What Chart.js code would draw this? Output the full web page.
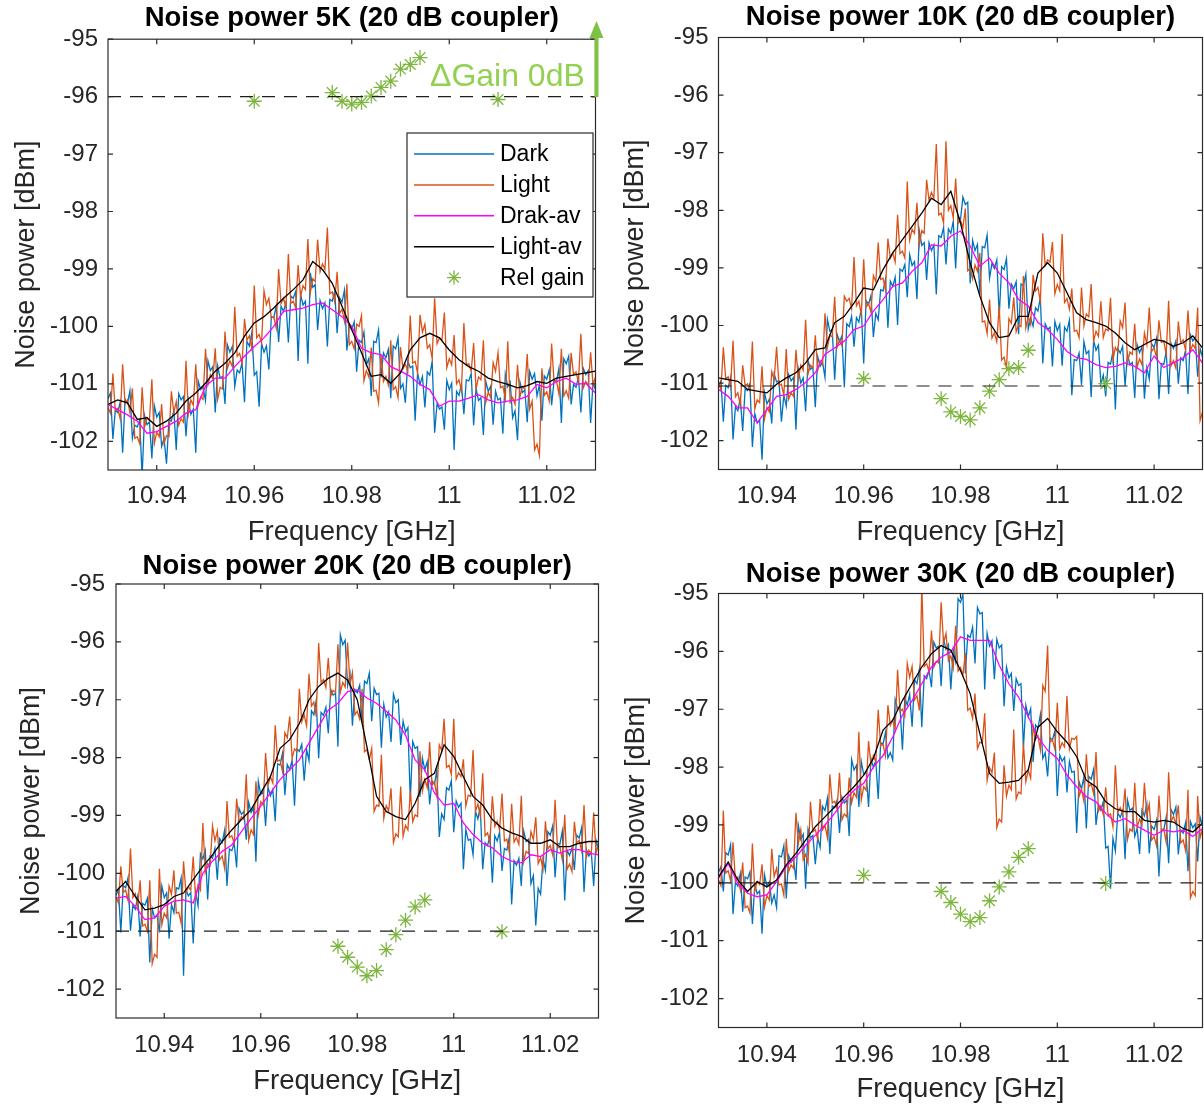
<!DOCTYPE html>
<html>
<head>
<meta charset="utf-8">
<script src="https://cdn.jsdelivr.net/npm/chart.js@4.4.1/dist/chart.umd.min.js"></script>
<style>
html,body{margin:0;padding:0;background:#ffffff;}
body{width:1204px;height:1107px;position:relative;overflow:hidden;}
canvas{position:absolute;}
</style>
</head>
<body>
<canvas id="c1" width="606" height="560" style="left:0px;top:0px"></canvas>
<canvas id="c2" width="594" height="560" style="left:610px;top:0px"></canvas>
<canvas id="c3" width="606" height="562" style="left:0px;top:545px"></canvas>
<canvas id="c4" width="594" height="552" style="left:610px;top:555px"></canvas>
<script>
// ---------------- data ----------------
const panelTitles = ['Noise power 5K (20 dB coupler)','Noise power 10K (20 dB coupler)','Noise power 20K (20 dB coupler)','Noise power 30K (20 dB coupler)'];
const xAxisTitle = 'Frequency [GHz]';
const yAxisTitle = 'Noise power [dBm]';
const seriesNames = ['Dark','Light','Drak-av','Light-av','Rel gain'];
const gainLabel = '\u0394Gain 0dB';

const xTickValues = [10.94, 10.96, 10.98, 11.00, 11.02];
const xTickLabels = ['10.94','10.96','10.98','11','11.02'];
const yTickValues = [-102, -101, -100, -99, -98, -97, -96, -95];
const yTickLabels = ['-102','-101','-100','-99','-98','-97','-96','-95'];
const xRange = [10.93, 11.03];
const yRange = [-102.5, -95];

const freqFine = [
10.930,10.9305,10.931,10.9315,10.932,10.9325,10.933,10.9335,10.934,10.9345,10.935,10.9355,10.936,10.9365,10.937,10.9375,10.938,10.9385,10.939,10.9395,
10.940,10.9405,10.941,10.9415,10.942,10.9425,10.943,10.9435,10.944,10.9445,10.945,10.9455,10.946,10.9465,10.947,10.9475,10.948,10.9485,10.949,10.9495,
10.950,10.9505,10.951,10.9515,10.952,10.9525,10.953,10.9535,10.954,10.9545,10.955,10.9555,10.956,10.9565,10.957,10.9575,10.958,10.9585,10.959,10.9595,
10.960,10.9605,10.961,10.9615,10.962,10.9625,10.963,10.9635,10.964,10.9645,10.965,10.9655,10.966,10.9665,10.967,10.9675,10.968,10.9685,10.969,10.9695,
10.970,10.9705,10.971,10.9715,10.972,10.9725,10.973,10.9735,10.974,10.9745,10.975,10.9755,10.976,10.9765,10.977,10.9775,10.978,10.9785,10.979,10.9795,
10.980,10.9805,10.981,10.9815,10.982,10.9825,10.983,10.9835,10.984,10.9845,10.985,10.9855,10.986,10.9865,10.987,10.9875,10.988,10.9885,10.989,10.9895,
10.990,10.9905,10.991,10.9915,10.992,10.9925,10.993,10.9935,10.994,10.9945,10.995,10.9955,10.996,10.9965,10.997,10.9975,10.998,10.9985,10.999,10.9995,
11.000,11.0005,11.001,11.0015,11.002,11.0025,11.003,11.0035,11.004,11.0045,11.005,11.0055,11.006,11.0065,11.007,11.0075,11.008,11.0085,11.009,11.0095,
11.010,11.0105,11.011,11.0115,11.012,11.0125,11.013,11.0135,11.014,11.0145,11.015,11.0155,11.016,11.0165,11.017,11.0175,11.018,11.0185,11.019,11.0195,
11.020,11.0205,11.021,11.0215,11.022,11.0225,11.023,11.0235,11.024,11.0245,11.025,11.0255,11.026,11.0265,11.027,11.0275,11.028,11.0285,11.029,11.0295,
11.030];
const freqAvg = [
10.930,10.932,10.934,10.936,10.938,10.940,10.942,10.944,10.946,10.948,
10.950,10.952,10.954,10.956,10.958,10.960,10.962,10.964,10.966,10.968,
10.970,10.972,10.974,10.976,10.978,10.980,10.982,10.984,10.986,10.988,
10.990,10.992,10.994,10.996,10.998,11.000,11.002,11.004,11.006,11.008,
11.010,11.012,11.014,11.016,11.018,11.020,11.022,11.024,11.026,11.028,
11.030];
const relFreq = [10.960,10.976,10.978,10.980,10.982,10.984,10.986,10.988,10.990,10.992,10.994,11.010];
const relFreq20K = [10.976,10.978,10.980,10.982,10.984,10.986,10.988,10.990,10.992,10.994,11.010];
const refLevels = [-96, -101.05, -101, -100];

// ---- 5K ----
const dark5K = [
-101.26,-101.16,-101.96,-101.46,-101.50,-101.32,-102.20,-101.27,-101.34,-101.12,
-101.95,-101.72,-101.75,-101.63,-102.61,-101.55,-101.71,-101.66,-102.30,-101.38,
-101.58,-101.50,-102.09,-101.95,-102.39,-101.63,-101.65,-101.46,-102.15,-101.17,
-101.28,-101.22,-101.91,-101.29,-101.53,-101.44,-102.20,-100.95,-101.10,-101.06,
-101.29,-100.60,-100.77,-100.70,-101.50,-100.69,-100.90,-100.87,-101.35,-100.32,
-100.45,-100.35,-101.05,-100.76,-100.81,-100.63,-101.32,-100.26,-100.34,-100.11,
-100.85,-100.79,-101.40,-100.30,-100.45,-100.34,-100.75,-99.83,-99.85,-99.65,
-100.27,-99.65,-99.74,-99.58,-100.28,-99.47,-99.51,-99.39,-100.60,-99.44,
-99.63,-99.56,-100.65,-99.07,-99.32,-99.27,-100.06,-99.55,-99.69,-99.59,
-100.35,-99.53,-99.56,-99.39,-100.12,-99.50,-99.58,-99.37,-100.42,-99.99,
-100.05,-99.92,-100.79,-100.24,-100.28,-100.10,-100.67,-100.56,-101.21,-100.26,
-100.28,-100.06,-100.89,-100.46,-100.55,-100.40,-101.25,-100.34,-100.39,-100.20,
-101.08,-101.00,-101.33,-100.60,-100.72,-100.69,-101.64,-100.81,-101.01,-100.87,
-101.41,-100.79,-100.85,-100.61,-101.85,-101.34,-101.44,-101.40,-101.80,-100.94,
-101.10,-100.99,-102.15,-101.13,-101.20,-101.01,-101.53,-100.93,-100.95,-100.82,
-101.72,-101.08,-101.29,-101.24,-101.89,-100.96,-101.13,-101.04,-101.71,-101.13,
-101.28,-101.25,-101.87,-100.83,-101.05,-100.97,-101.59,-101.47,-101.98,-100.97,
-101.15,-101.11,-101.67,-100.78,-100.92,-100.82,-101.21,-101.01,-101.64,-100.86,
-100.92,-100.76,-101.37,-100.94,-100.96,-100.73,-101.68,-100.56,-100.65,-100.52,
-101.36,-101.01,-101.06,-100.88,-101.50,-100.73,-100.84,-100.77,-101.68,-100.96,
-101.11];
const light5K = [
-101.41,-101.51,-100.82,-101.47,-101.43,-101.61,-100.66,-101.35,-101.28,-101.50,
-101.08,-101.95,-101.92,-102.04,-101.06,-101.75,-101.59,-101.64,-100.92,-102.04,
-101.84,-101.92,-101.35,-102.04,-101.90,-101.92,-101.13,-101.50,-101.31,-101.72,
-101.61,-101.67,-100.60,-101.52,-101.28,-101.37,-100.66,-101.38,-101.23,-101.27,
-100.39,-101.01,-100.84,-100.91,-100.38,-101.27,-101.06,-101.09,-100.09,-100.73,
-100.60,-100.70,-99.66,-100.52,-100.47,-100.65,-99.87,-100.24,-100.16,-100.39,
-99.29,-100.20,-100.14,-100.29,-99.38,-99.62,-99.51,-99.85,-99.83,-100.03,
-99.00,-99.60,-99.51,-99.67,-98.74,-99.60,-99.56,-99.68,-98.93,-99.48,
-99.29,-99.36,-98.48,-99.42,-99.17,-99.22,-98.49,-99.05,-98.91,-99.01,
-98.28,-99.43,-99.40,-99.57,-99.05,-99.78,-99.70,-99.91,-99.26,-100.32,
-100.26,-100.39,-99.96,-100.00,-99.81,-100.95,-100.77,-100.88,-100.37,-101.13,
-101.11,-101.33,-100.49,-100.96,-100.87,-101.02,-100.24,-101.10,-101.05,-101.24,
-100.36,-100.74,-100.66,-100.78,-99.81,-100.64,-100.61,-100.81,-99.80,-100.10,
-99.96,-100.38,-100.32,-100.56,-99.51,-100.30,-100.20,-100.24,-99.76,-100.72,
-100.56,-100.67,-100.15,-101.00,-100.93,-101.12,-99.94,-100.67,-100.65,-100.78,
-100.29,-101.09,-100.88,-100.93,-100.24,-101.32,-101.15,-101.24,-100.63,-100.78,
-100.46,-101.07,-101.04,-101.26,-100.26,-101.32,-101.24,-101.36,-100.67,-101.23,
-101.05,-101.09,-100.48,-101.44,-101.30,-102.15,-102.05,-102.25,-100.73,-101.20,
-101.14,-101.30,-100.30,-100.97,-100.95,-101.18,-100.39,-101.21,-101.12,-101.25,
-100.46,-100.84,-100.79,-100.97,-100.13,-101.07,-100.96,-101.03,-100.45,-101.03,
-100.88];
const darkAv5K = [
-101.36,-101.45,-101.54,-101.65,-101.86,-101.83,-101.74,-101.65,-101.51,-101.45,
-101.04,-100.90,-100.90,-100.70,-100.52,-100.35,-100.20,-100.00,-99.74,-99.71,
-99.68,-99.62,-99.59,-99.71,-99.83,-100.00,-100.38,-100.46,-100.49,-100.70,
-100.78,-100.87,-101.01,-101.10,-101.39,-101.30,-101.30,-101.25,-101.19,-101.28,
-101.33,-101.30,-101.28,-101.22,-101.01,-101.07,-100.96,-100.90,-101.01,-100.99,
-101.16];
const lightAv5K = [
-101.36,-101.28,-101.33,-101.62,-101.59,-101.74,-101.65,-101.51,-101.30,-101.16,
-100.99,-100.78,-100.64,-100.46,-100.17,-99.94,-99.83,-99.68,-99.51,-99.36,
-99.19,-98.87,-99.01,-99.25,-99.65,-100.06,-100.46,-100.87,-100.84,-100.99,
-100.81,-100.41,-100.20,-100.12,-100.20,-100.41,-100.58,-100.70,-100.78,-100.90,
-100.96,-101.01,-101.07,-101.03,-100.96,-100.99,-100.90,-100.87,-100.84,-100.81,
-100.78];
const relGain5K = [-96.08,-95.93,-96.08,-96.13,-96.10,-95.99,-95.84,-95.73,-95.52,-95.44,-95.32,-96.05];

// ---- 10K ----
const dark10K = [
-101.06,-100.96,-101.67,-101.04,-101.08,-100.90,-101.98,-101.41,-101.48,-101.26,
-101.83,-101.10,-101.13,-101.01,-102.11,-101.53,-101.69,-101.64,-102.33,-101.16,
-101.36,-101.28,-101.70,-100.84,-100.98,-100.96,-101.67,-101.21,-101.40,-100.85,
-100.96,-100.90,-101.81,-100.76,-101.00,-100.91,-101.49,-100.61,-100.76,-100.72,
-101.42,-100.54,-100.71,-100.64,-100.90,-99.89,-100.10,-100.07,-100.94,-100.15,
-100.28,-100.18,-101.07,-99.97,-100.02,-99.84,-100.37,-99.86,-99.94,-99.71,
-100.66,-99.57,-99.63,-99.48,-100.20,-99.79,-99.90,-99.38,-99.40,-99.20,
-100.04,-99.23,-99.32,-99.16,-99.99,-99.02,-99.06,-98.94,-99.51,-98.77,
-98.96,-98.89,-99.54,-98.36,-98.61,-98.56,-99.21,-98.56,-98.70,-98.60,
-99.46,-98.44,-98.47,-98.30,-98.94,-98.32,-98.40,-98.19,-99.01,-98.10,
-98.16,-97.77,-97.90,-97.86,-99.27,-98.52,-98.70,-98.59,-99.47,-98.63,
-98.65,-98.43,-99.18,-98.92,-99.01,-98.86,-99.84,-98.98,-99.03,-98.84,
-99.71,-99.28,-99.36,-99.24,-100.15,-99.28,-99.31,-99.11,-100.06,-99.87,
-100.01,-99.69,-99.75,-99.51,-100.66,-99.97,-100.07,-100.03,-100.71,-99.93,
-100.09,-99.98,-100.70,-100.03,-100.10,-99.91,-101.21,-100.59,-100.61,-100.48,
-101.03,-100.28,-100.49,-100.44,-101.24,-100.26,-100.43,-100.34,-101.01,-100.86,
-101.23,-100.64,-100.67,-100.45,-101.46,-100.40,-100.48,-100.36,-101.05,-100.50,
-100.68,-100.64,-101.26,-100.33,-100.47,-100.37,-101.27,-100.73,-100.93,-100.32,
-100.38,-100.22,-101.28,-100.66,-100.68,-100.45,-101.19,-100.31,-100.40,-100.27,
-101.01,-100.56,-100.61,-100.43,-101.19,-100.16,-100.27,-100.20,-100.89,-100.40,
-100.55];
const light10K = [
-101.01,-101.11,-100.38,-100.93,-100.89,-101.07,-100.26,-101.24,-101.17,-101.39,
-100.69,-101.04,-101.01,-101.13,-100.28,-101.45,-101.29,-101.34,-100.71,-101.62,
-101.42,-101.50,-100.80,-100.94,-100.37,-101.04,-101.02,-101.21,-100.41,-101.28,
-101.17,-101.23,-100.42,-100.93,-100.69,-100.78,-99.90,-100.84,-100.69,-100.73,
-100.17,-100.78,-100.61,-100.68,-99.79,-100.38,-100.17,-100.20,-99.50,-100.38,
-100.25,-100.35,-99.49,-99.58,-99.53,-99.71,-98.81,-99.66,-99.58,-99.81,
-98.85,-99.68,-99.62,-99.77,-99.13,-99.24,-98.56,-99.20,-99.18,-99.38,
-98.49,-98.83,-98.74,-98.90,-98.08,-98.75,-98.71,-98.83,-97.50,-98.52,
-98.33,-98.40,-97.87,-98.60,-98.35,-98.40,-97.47,-97.83,-97.69,-97.79,
-96.85,-98.08,-98.05,-98.22,-96.80,-98.00,-97.92,-98.13,-97.45,-98.23,
-98.17,-98.30,-97.97,-99.05,-99.01,-99.19,-98.95,-99.06,-98.74,-99.94,
-99.92,-100.14,-99.55,-100.22,-100.13,-100.28,-99.66,-100.60,-100.55,-100.74,
-99.88,-99.96,-99.51,-100.11,-99.99,-100.02,-99.14,-100.04,-99.84,-99.98,
-99.12,-99.40,-99.34,-99.58,-98.40,-98.96,-98.86,-98.90,-98.55,-99.45,
-99.29,-99.40,-98.41,-99.60,-99.53,-99.72,-99.36,-100.10,-100.08,-100.21,
-99.34,-100.01,-99.80,-99.85,-99.28,-100.27,-100.10,-100.19,-99.58,-100.21,
-100.06,-100.09,-99.52,-100.60,-100.38,-100.46,-99.92,-100.04,-99.60,-100.64,
-100.46,-100.50,-99.97,-100.72,-100.58,-100.68,-100.13,-100.33,-99.69,-100.45,
-100.39,-100.55,-99.91,-100.29,-100.27,-100.50,-99.57,-100.70,-100.61,-100.74,
-99.93,-100.30,-100.25,-100.43,-99.74,-100.44,-100.33,-100.40,-99.69,-101.65,
-101.50];
const darkAv10K = [
-101.11,-101.23,-101.43,-101.43,-101.69,-101.46,-101.23,-101.20,-101.11,-100.99,
-100.82,-100.50,-100.39,-100.27,-100.07,-100.01,-99.75,-99.55,-99.32,-99.26,
-99.06,-98.91,-98.60,-98.62,-98.45,-98.36,-98.62,-98.97,-98.83,-99.09,
-99.26,-99.55,-99.66,-99.95,-100.07,-100.24,-100.45,-100.56,-100.59,-100.68,
-100.73,-100.71,-100.65,-100.71,-100.82,-100.53,-100.73,-100.65,-100.56,-100.42,
-100.65];
const lightAv10K = [
-100.91,-100.94,-100.97,-101.11,-101.14,-101.17,-101.02,-100.91,-100.82,-100.65,
-100.42,-100.39,-99.95,-99.84,-99.61,-99.35,-99.38,-99.03,-98.74,-98.51,
-98.28,-98.05,-97.79,-97.90,-97.67,-98.22,-98.91,-99.49,-99.95,-100.21,
-100.18,-99.84,-99.84,-99.09,-98.91,-99.09,-99.43,-99.78,-99.90,-99.95,
-100.01,-100.13,-100.30,-100.42,-100.33,-100.24,-100.27,-100.36,-100.30,-100.18,
-100.39];
const relGain10K = [-100.92,-101.27,-101.50,-101.58,-101.64,-101.43,-101.14,-100.94,-100.75,-100.73,-100.43,-101.01];

// ---- 20K ----
const dark20K = [
-100.38,-100.28,-101.02,-100.21,-100.25,-100.07,-100.99,-100.55,-100.62,-100.40,
-101.09,-100.52,-100.55,-100.43,-101.54,-100.61,-100.77,-100.72,-101.02,-100.22,
-100.42,-100.34,-101.13,-100.54,-100.68,-100.25,-100.27,-100.08,-101.77,-100.28,
-100.39,-100.33,-101.21,-100.32,-100.56,-99.66,-99.75,-99.60,-100.45,-99.70,
-99.74,-99.57,-100.11,-99.40,-99.47,-99.26,-100.22,-99.58,-99.61,-99.48,
-99.90,-98.88,-98.98,-98.93,-99.42,-98.77,-98.95,-98.87,-99.80,-98.41,
-98.64,-98.58,-99.18,-98.51,-98.66,-98.55,-99.10,-98.11,-98.13,-97.93,
-98.65,-98.12,-98.21,-98.05,-98.83,-97.85,-97.89,-97.77,-98.40,-97.86,
-98.05,-97.19,-97.26,-97.01,-98.01,-97.22,-97.27,-97.13,-97.58,-96.82,
-96.92,-96.89,-97.81,-95.88,-96.05,-95.97,-96.76,-96.55,-97.45,-96.82,
-96.88,-96.75,-97.40,-96.68,-96.72,-96.54,-97.37,-96.80,-96.91,-96.89,
-97.83,-97.08,-97.30,-97.21,-97.73,-96.90,-97.05,-97.00,-97.78,-97.37,
-97.56,-97.48,-98.73,-97.72,-97.84,-97.81,-98.68,-98.01,-98.21,-98.07,
-98.81,-98.40,-98.46,-98.22,-99.37,-98.97,-99.07,-98.52,-98.56,-98.40,
-99.29,-98.75,-98.86,-98.79,-99.93,-99.24,-99.43,-99.41,-99.68,-98.93,
-99.06,-98.85,-99.93,-99.47,-99.52,-99.35,-100.16,-99.35,-99.44,-99.29,
-99.96,-99.57,-99.60,-99.38,-100.54,-99.78,-99.86,-99.74,-100.22,-99.27,
-99.45,-99.41,-100.18,-100.04,-100.90,-100.26,-100.36,-99.75,-99.95,-99.28,
-99.34,-99.18,-100.07,-99.48,-99.50,-99.27,-100.47,-99.60,-99.69,-99.56,
-99.94,-99.34,-99.39,-99.21,-100.32,-99.59,-99.70,-99.63,-100.22,-99.43,
-99.58];
const light20K = [
-100.41,-100.51,-99.88,-100.33,-100.29,-100.47,-99.57,-100.42,-100.35,-100.57,
-100.12,-100.91,-100.88,-101.00,-100.12,-101.56,-101.40,-101.45,-99.92,-100.89,
-100.69,-100.77,-100.22,-100.36,-99.95,-100.69,-100.67,-100.86,-99.79,-100.34,
-100.23,-100.29,-99.71,-100.44,-100.20,-100.29,-99.13,-99.98,-99.83,-99.87,
-99.18,-99.44,-99.27,-99.77,-99.70,-99.91,-98.75,-99.38,-99.35,-99.48,
-98.71,-99.12,-99.02,-99.07,-98.29,-99.43,-99.25,-99.33,-98.41,-98.99,
-98.76,-98.82,-97.92,-98.48,-98.33,-98.44,-97.44,-98.06,-98.04,-98.24,
-97.57,-97.66,-97.29,-98.01,-97.85,-97.89,-96.81,-97.38,-97.26,-97.45,
-96.55,-97.11,-97.04,-97.29,-96.02,-96.70,-96.65,-96.79,-96.28,-96.94,
-96.84,-96.87,-96.04,-96.87,-96.70,-96.78,-96.01,-96.74,-96.53,-97.26,
-97.20,-97.33,-96.81,-97.90,-97.86,-98.04,-97.84,-98.93,-98.82,-98.84,
-97.95,-99.05,-98.83,-98.92,-98.53,-99.47,-99.32,-99.37,-98.50,-99.36,
-99.17,-99.25,-98.58,-99.11,-98.99,-99.02,-97.89,-98.58,-98.38,-98.52,
-97.73,-98.48,-98.42,-98.66,-97.78,-97.88,-97.33,-98.17,-98.13,-98.29,
-97.33,-98.37,-98.26,-98.33,-98.03,-98.84,-98.65,-98.67,-97.87,-98.93,
-98.80,-99.01,-98.27,-99.35,-99.30,-99.47,-98.67,-99.19,-99.10,-99.25,
-98.62,-99.44,-99.41,-99.63,-98.80,-99.46,-99.38,-99.50,-98.66,-99.80,
-99.62,-99.66,-99.28,-99.42,-99.03,-99.83,-99.73,-99.93,-99.10,-99.58,
-99.52,-99.68,-98.73,-99.56,-99.54,-99.77,-98.99,-99.93,-99.84,-99.97,
-99.11,-99.48,-99.43,-99.61,-98.82,-99.71,-99.60,-99.67,-98.95,-99.65,
-99.50];
const darkAv20K = [
-100.43,-100.40,-100.57,-100.80,-100.77,-100.57,-100.48,-100.46,-100.51,-100.00,
-99.79,-99.62,-99.51,-99.28,-99.05,-98.84,-98.61,-98.38,-98.21,-98.04,
-97.75,-97.46,-97.18,-97.06,-96.86,-96.83,-96.97,-97.06,-97.20,-97.35,
-97.61,-98.04,-98.21,-98.61,-98.82,-98.79,-99.13,-99.33,-99.48,-99.56,
-99.71,-99.79,-99.82,-99.68,-99.71,-99.59,-99.65,-99.59,-99.59,-99.65,
-99.68];
const lightAv20K = [
-100.31,-100.14,-100.40,-100.63,-100.60,-100.54,-100.40,-100.34,-100.11,-99.88,
-99.68,-99.45,-99.25,-99.07,-98.90,-98.61,-98.33,-97.84,-97.69,-97.41,
-97.00,-96.77,-96.63,-96.54,-96.66,-97.00,-97.81,-98.67,-98.93,-99.02,
-99.07,-98.79,-98.38,-98.27,-97.78,-97.98,-98.33,-98.67,-98.82,-99.07,
-99.22,-99.30,-99.36,-99.48,-99.48,-99.42,-99.54,-99.54,-99.48,-99.45,
-99.45];
const relGain20K = [-101.26,-101.45,-101.62,-101.77,-101.68,-101.32,-101.06,-100.81,-100.58,-100.46,-101.01];

// ---- 30K ----
const dark30K = [
-99.82,-99.72,-100.15,-99.48,-99.52,-99.34,-100.54,-99.99,-100.06,-99.84,
-100.50,-99.90,-99.93,-99.81,-100.71,-100.03,-100.19,-100.14,-100.88,-99.86,
-100.06,-99.98,-100.35,-100.21,-100.43,-99.53,-99.55,-99.36,-100.27,-99.53,
-99.64,-99.58,-99.95,-99.01,-99.25,-99.16,-100.10,-99.07,-99.22,-99.18,
-99.68,-99.22,-99.39,-98.68,-98.75,-98.54,-99.50,-98.67,-98.70,-98.57,
-99.14,-98.52,-98.62,-98.57,-99.19,-97.87,-98.05,-97.97,-98.69,-97.90,
-98.13,-98.07,-98.69,-97.85,-98.00,-97.89,-98.55,-97.58,-97.60,-97.40,
-97.84,-97.75,-97.88,-96.83,-96.99,-96.95,-97.70,-96.81,-96.93,-96.74,
-97.30,-96.49,-96.56,-96.31,-97.31,-96.42,-96.47,-96.33,-96.62,-95.84,
-95.94,-95.91,-96.60,-95.79,-95.96,-95.88,-96.66,-95.97,-96.18,-95.09,
-95.15,-95.02,-96.38,-95.72,-95.76,-95.58,-96.21,-95.24,-95.35,-95.33,
-96.66,-95.69,-95.91,-95.82,-96.48,-95.79,-95.94,-95.89,-96.95,-96.27,
-96.46,-96.38,-97.03,-96.47,-96.59,-96.56,-97.66,-96.93,-97.13,-96.99,
-97.91,-97.27,-97.33,-97.09,-97.85,-97.75,-98.16,-97.49,-97.53,-97.37,
-98.50,-97.79,-97.90,-97.83,-98.44,-97.90,-98.09,-98.07,-99.14,-98.25,
-98.38,-98.17,-99.06,-98.16,-98.21,-98.04,-99.00,-98.66,-98.75,-98.60,
-99.40,-99.37,-100.10,-99.23,-99.45,-98.79,-98.87,-98.75,-99.59,-98.57,
-98.75,-98.71,-99.20,-99.06,-99.50,-98.74,-98.84,-98.64,-99.49,-99.02,
-99.08,-98.92,-99.89,-99.07,-99.09,-98.86,-99.66,-98.73,-98.82,-98.69,
-99.51,-99.09,-99.14,-98.96,-99.80,-98.94,-99.05,-98.98,-99.63,-98.86,
-99.01];
const light30K = [
-99.95,-100.05,-98.75,-99.83,-99.79,-99.97,-99.30,-99.97,-99.90,-100.12,
-99.65,-100.43,-100.40,-100.52,-99.32,-100.14,-99.98,-100.03,-99.68,-100.42,
-100.22,-100.30,-99.41,-99.89,-99.75,-100.04,-100.02,-100.21,-99.24,-99.80,
-99.69,-99.75,-98.79,-99.32,-99.08,-99.60,-99.51,-99.66,-98.60,-99.12,
-99.08,-99.25,-98.55,-99.08,-99.01,-99.22,-98.13,-98.62,-98.59,-98.72,
-98.10,-98.91,-98.81,-98.86,-98.18,-98.62,-98.44,-98.52,-97.39,-98.57,
-98.34,-98.40,-97.55,-97.95,-97.80,-97.91,-97.01,-97.63,-97.61,-97.81,
-96.93,-97.28,-97.19,-97.35,-96.32,-97.04,-97.00,-97.12,-96.21,-96.45,
-96.26,-96.84,-96.77,-97.02,-94.85,-96.26,-96.21,-96.35,-95.64,-96.27,
-96.17,-96.20,-95.15,-95.86,-95.69,-96.16,-96.08,-96.29,-95.56,-96.34,
-96.28,-96.41,-96.03,-97.02,-96.98,-97.16,-96.73,-97.68,-97.57,-97.59,
-97.07,-98.23,-98.01,-98.10,-97.75,-99.05,-98.90,-98.95,-97.97,-98.50,
-98.31,-98.39,-97.35,-98.55,-98.43,-98.46,-97.59,-98.25,-98.05,-98.19,
-97.28,-97.52,-97.46,-97.70,-96.59,-96.69,-95.90,-97.57,-97.53,-97.69,
-96.89,-97.69,-97.58,-97.65,-96.77,-97.69,-97.50,-97.52,-97.47,-98.51,
-98.38,-98.59,-97.78,-98.34,-98.29,-98.46,-97.74,-98.76,-98.67,-98.82,
-98.35,-98.84,-98.81,-99.03,-97.97,-98.78,-98.70,-98.82,-98.37,-99.25,
-99.07,-99.11,-98.27,-99.04,-98.90,-99.00,-98.27,-98.84,-98.64,-99.26,
-99.20,-99.36,-98.49,-99.09,-99.07,-99.30,-98.09,-98.94,-98.85,-98.98,
-98.66,-99.31,-99.26,-99.44,-98.39,-100.26,-100.15,-100.22,-98.50,-99.22,
-99.07];
const darkAv30K = [
-99.92,-99.67,-100.01,-100.18,-100.24,-100.21,-99.98,-99.72,-99.55,-99.35,
-99.18,-99.00,-98.80,-98.57,-98.40,-98.28,-98.00,-97.80,-97.48,-97.10,
-96.85,-96.56,-96.27,-96.10,-96.01,-95.75,-95.81,-95.81,-95.81,-96.24,
-96.56,-96.79,-97.13,-97.48,-97.71,-97.85,-98.14,-98.34,-98.51,-98.60,
-98.80,-98.95,-98.89,-99.00,-99.09,-99.18,-99.09,-99.12,-99.09,-99.20,
-99.06];
const lightAv30K = [
-99.90,-99.64,-99.95,-100.15,-99.98,-100.07,-99.95,-99.69,-99.49,-99.26,
-99.03,-98.86,-98.69,-98.51,-98.34,-98.14,-97.85,-97.36,-97.19,-96.85,
-96.56,-96.27,-96.04,-95.90,-95.98,-96.33,-96.73,-97.42,-98.11,-98.28,
-98.26,-98.23,-98.05,-97.31,-97.16,-97.39,-97.57,-97.82,-98.23,-98.34,
-98.60,-98.72,-98.77,-98.77,-98.92,-98.95,-98.92,-98.95,-99.06,-99.12,
-98.97];
const relGain30K = [-99.87,-100.15,-100.34,-100.54,-100.67,-100.60,-100.31,-100.07,-99.81,-99.56,-99.41,-100.01];

// ---------------- styles / layout (not data) ----------------
const FONT = '"Liberation Sans", Arial, Helvetica, sans-serif';
const COLORS = {dark:'#0072BD', light:'#D95319', darkAv:'#FF00FF', lightAv:'#000000', rel:'#7DB63E', ref:'#1e1e1e', axis:'#2b2b2b', text:'#262626'};

const layouts = [
  {yW:108,   xH:90,   padR:10.5, tTop:2.2, tBot:4.0, xTickPad:11.6, xTitlePad:11.5, yTickPad:10, yTitlePad:10.8},
  {yW:108.5, xH:90.5, padR:1.5,  tTop:1.0, tBot:3.5, xTickPad:12.6, xTitlePad:11.5, yTickPad:10, yTitlePad:9.8},
  {yW:116,   xH:89,   padR:7.5,  tTop:4.5, tBot:1.5, xTickPad:12.6, xTitlePad:9.0,  yTickPad:11, yTitlePad:15.8},
  {yW:108.5, xH:79.5, padR:1.5,  tTop:2.5, tBot:3.0, xTickPad:13.1, xTitlePad:1.5,  yTickPad:10, yTitlePad:10.8}
];

function pts(xs, ys){ return xs.map((x,i)=>({x:x, y:ys[i]})); }

function drawAsterisk(ctx, x, y, r, color, lw){
  ctx.save();
  ctx.strokeStyle = color; ctx.lineWidth = lw;
  ctx.beginPath();
  for (let k=0;k<4;k++){
    const a = k*Math.PI/4;
    ctx.moveTo(x - r*Math.cos(a), y - r*Math.sin(a));
    ctx.lineTo(x + r*Math.cos(a), y + r*Math.sin(a));
  }
  ctx.stroke();
  ctx.restore();
}

const framePlugin = {
  id:'frame',
  afterDatasetsDraw(chart, args, opts){
    const ctx = chart.ctx, a = chart.chartArea;
    const xs = chart.scales.x, ys = chart.scales.y;
    ctx.save();
    ctx.strokeStyle = COLORS.axis; ctx.lineWidth = 1.2;
    ctx.strokeRect(a.left, a.top, a.right - a.left, a.bottom - a.top);
    const tl = 5;
    ctx.beginPath();
    xTickValues.forEach(v=>{
      const px = xs.getPixelForValue(v);
      ctx.moveTo(px, a.bottom); ctx.lineTo(px, a.bottom - tl);
      ctx.moveTo(px, a.top); ctx.lineTo(px, a.top + tl);
    });
    yTickValues.forEach(v=>{
      const py = ys.getPixelForValue(v);
      ctx.moveTo(a.left, py); ctx.lineTo(a.left + tl, py);
      ctx.moveTo(a.right, py); ctx.lineTo(a.right - tl, py);
    });
    ctx.stroke();
    ctx.restore();

    if (opts.legend){
      const L = opts.legend;
      ctx.save();
      ctx.fillStyle = '#ffffff';
      ctx.fillRect(L.x, L.y, L.w, L.h);
      ctx.strokeStyle = COLORS.axis; ctx.lineWidth = 1.2;
      ctx.strokeRect(L.x, L.y, L.w, L.h);
      ctx.font = '23px ' + FONT;
      ctx.textBaseline = 'middle'; ctx.textAlign = 'left';
      const dsets = chart.data.datasets.filter(d=>d.inLegend);
      dsets.forEach((d,i)=>{
        const cy = L.y + L.first + i*L.step;
        if (d.showLine === false){
          drawAsterisk(ctx, (L.x1+L.x2)/2, cy, 7, d.borderColor, 1.3);
        } else {
          ctx.strokeStyle = d.borderColor; ctx.lineWidth = 1.5;
          ctx.beginPath(); ctx.moveTo(L.x1, cy); ctx.lineTo(L.x2, cy); ctx.stroke();
        }
        ctx.fillStyle = '#000000';
        ctx.fillText(d.label, L.tx, cy + 1);
      });
      ctx.restore();
    }
  },
  afterDraw(chart, args, opts){
    if (!opts.gain) return;
    const ctx = chart.ctx, g = opts.gain;
    ctx.save();
    ctx.fillStyle = '#92D050';
    ctx.font = '32px ' + FONT;
    ctx.textBaseline = 'middle'; ctx.textAlign = 'left';
    ctx.fillText(g.text, g.tx, g.ty);
    ctx.strokeStyle = '#7DC242'; ctx.lineWidth = 4;
    ctx.beginPath(); ctx.moveTo(g.ax, g.ay0); ctx.lineTo(g.ax, g.ay1 + 14); ctx.stroke();
    ctx.fillStyle = '#7DC242';
    ctx.beginPath();
    ctx.moveTo(g.ax, g.ay1); ctx.lineTo(g.ax - 7, g.ay1 + 17); ctx.lineTo(g.ax + 7, g.ay1 + 17);
    ctx.closePath(); ctx.fill();
    ctx.restore();
  }
};

function makePanel(canvasId, idx, d, extra){
  const lay = layouts[idx];
  const datasets = [
    {label:seriesNames[0], inLegend:true, data:pts(freqFine, d.dark), borderColor:COLORS.dark, borderWidth:1.3, pointRadius:0, order:5},
    {label:seriesNames[1], inLegend:true, data:pts(freqFine, d.light), borderColor:COLORS.light, borderWidth:1.3, pointRadius:0, order:4},
    {label:seriesNames[2], inLegend:true, data:pts(freqAvg, d.darkAv), borderColor:COLORS.darkAv, borderWidth:1.3, pointRadius:0, order:3},
    {label:seriesNames[3], inLegend:true, data:pts(freqAvg, d.lightAv), borderColor:COLORS.lightAv, borderWidth:1.3, pointRadius:0, order:2},
    {label:seriesNames[4], inLegend:true, data:pts(d.relX, d.rel), showLine:false, borderColor:COLORS.rel, pointStyle:'star', pointRadius:7.5, pointBorderWidth:1.3, pointBorderColor:COLORS.rel, order:1},
    {label:'ref', inLegend:false, data:[{x:xRange[0], y:d.level},{x:xRange[1], y:d.level}], borderColor:COLORS.ref, borderWidth:1.2, borderDash:[13,9], pointRadius:0, order:0}
  ];
  return new Chart(document.getElementById(canvasId), {
    type:'line',
    data:{datasets:datasets},
    options:{
      responsive:false, animation:false, events:[],
      layout:{autoPadding:false, padding:{left:0, right:lay.padR, top:0, bottom:0}},
      scales:{
        x:{
          type:'linear', min:xRange[0], max:xRange[1],
          grid:{display:false, drawTicks:false}, border:{display:false},
          afterBuildTicks:(s)=>{ s.ticks = xTickValues.map(v=>({value:v})); },
          afterFit:(s)=>{ s.height = lay.xH; s.paddingLeft = 0; s.paddingRight = 0; },
          ticks:{autoSkip:false, maxRotation:0, minRotation:0, padding:lay.xTickPad, color:COLORS.text,
                 font:{family:FONT, size:24},
                 callback:(v)=>{ const k = xTickValues.indexOf(v); return k>=0 ? xTickLabels[k] : ''; }},
          title:{display:true, text:xAxisTitle, color:COLORS.text, font:{family:FONT, size:27.5}, padding:{top:0, bottom:lay.xTitlePad}}
        },
        y:{
          type:'linear', min:yRange[0], max:yRange[1],
          grid:{display:false, drawTicks:false}, border:{display:false},
          afterBuildTicks:(s)=>{ s.ticks = yTickValues.map(v=>({value:v})); },
          afterFit:(s)=>{ s.width = lay.yW; s.paddingTop = 0; s.paddingBottom = 0; },
          ticks:{autoSkip:false, padding:lay.yTickPad, color:COLORS.text, font:{family:FONT, size:24},
                 callback:(v)=>{ const k = yTickValues.indexOf(v); return k>=0 ? yTickLabels[k] : ''; }},
          title:{display:true, text:yAxisTitle, color:COLORS.text, font:{family:FONT, size:27}, padding:{top:lay.yTitlePad, bottom:0}}
        }
      },
      plugins:{
        legend:{display:false}, tooltip:{enabled:false},
        title:{display:true, fullSize:false, text:panelTitles[idx], color:'#000000', font:{family:FONT, size:27.5, weight:'bold'}, padding:{top:lay.tTop, bottom:lay.tBot}},
        frame: extra || {}
      }
    },
    plugins:[framePlugin]
  });
}

makePanel('c1', 0, {dark:dark5K, light:light5K, darkAv:darkAv5K, lightAv:lightAv5K, relX:relFreq, rel:relGain5K, level:refLevels[0]},
  {legend:{x:407, y:133, w:186, h:164, first:21, step:30.9, x1:414, x2:494, tx:500},
   gain:{text:gainLabel, tx:430, ty:77, ax:596.5, ay0:97, ay1:21}});
makePanel('c2', 1, {dark:dark10K, light:light10K, darkAv:darkAv10K, lightAv:lightAv10K, relX:relFreq, rel:relGain10K, level:refLevels[1]});
makePanel('c3', 2, {dark:dark20K, light:light20K, darkAv:darkAv20K, lightAv:lightAv20K, relX:relFreq20K, rel:relGain20K, level:refLevels[2]});
makePanel('c4', 3, {dark:dark30K, light:light30K, darkAv:darkAv30K, lightAv:lightAv30K, relX:relFreq, rel:relGain30K, level:refLevels[3]});
</script>
</body>
</html>
